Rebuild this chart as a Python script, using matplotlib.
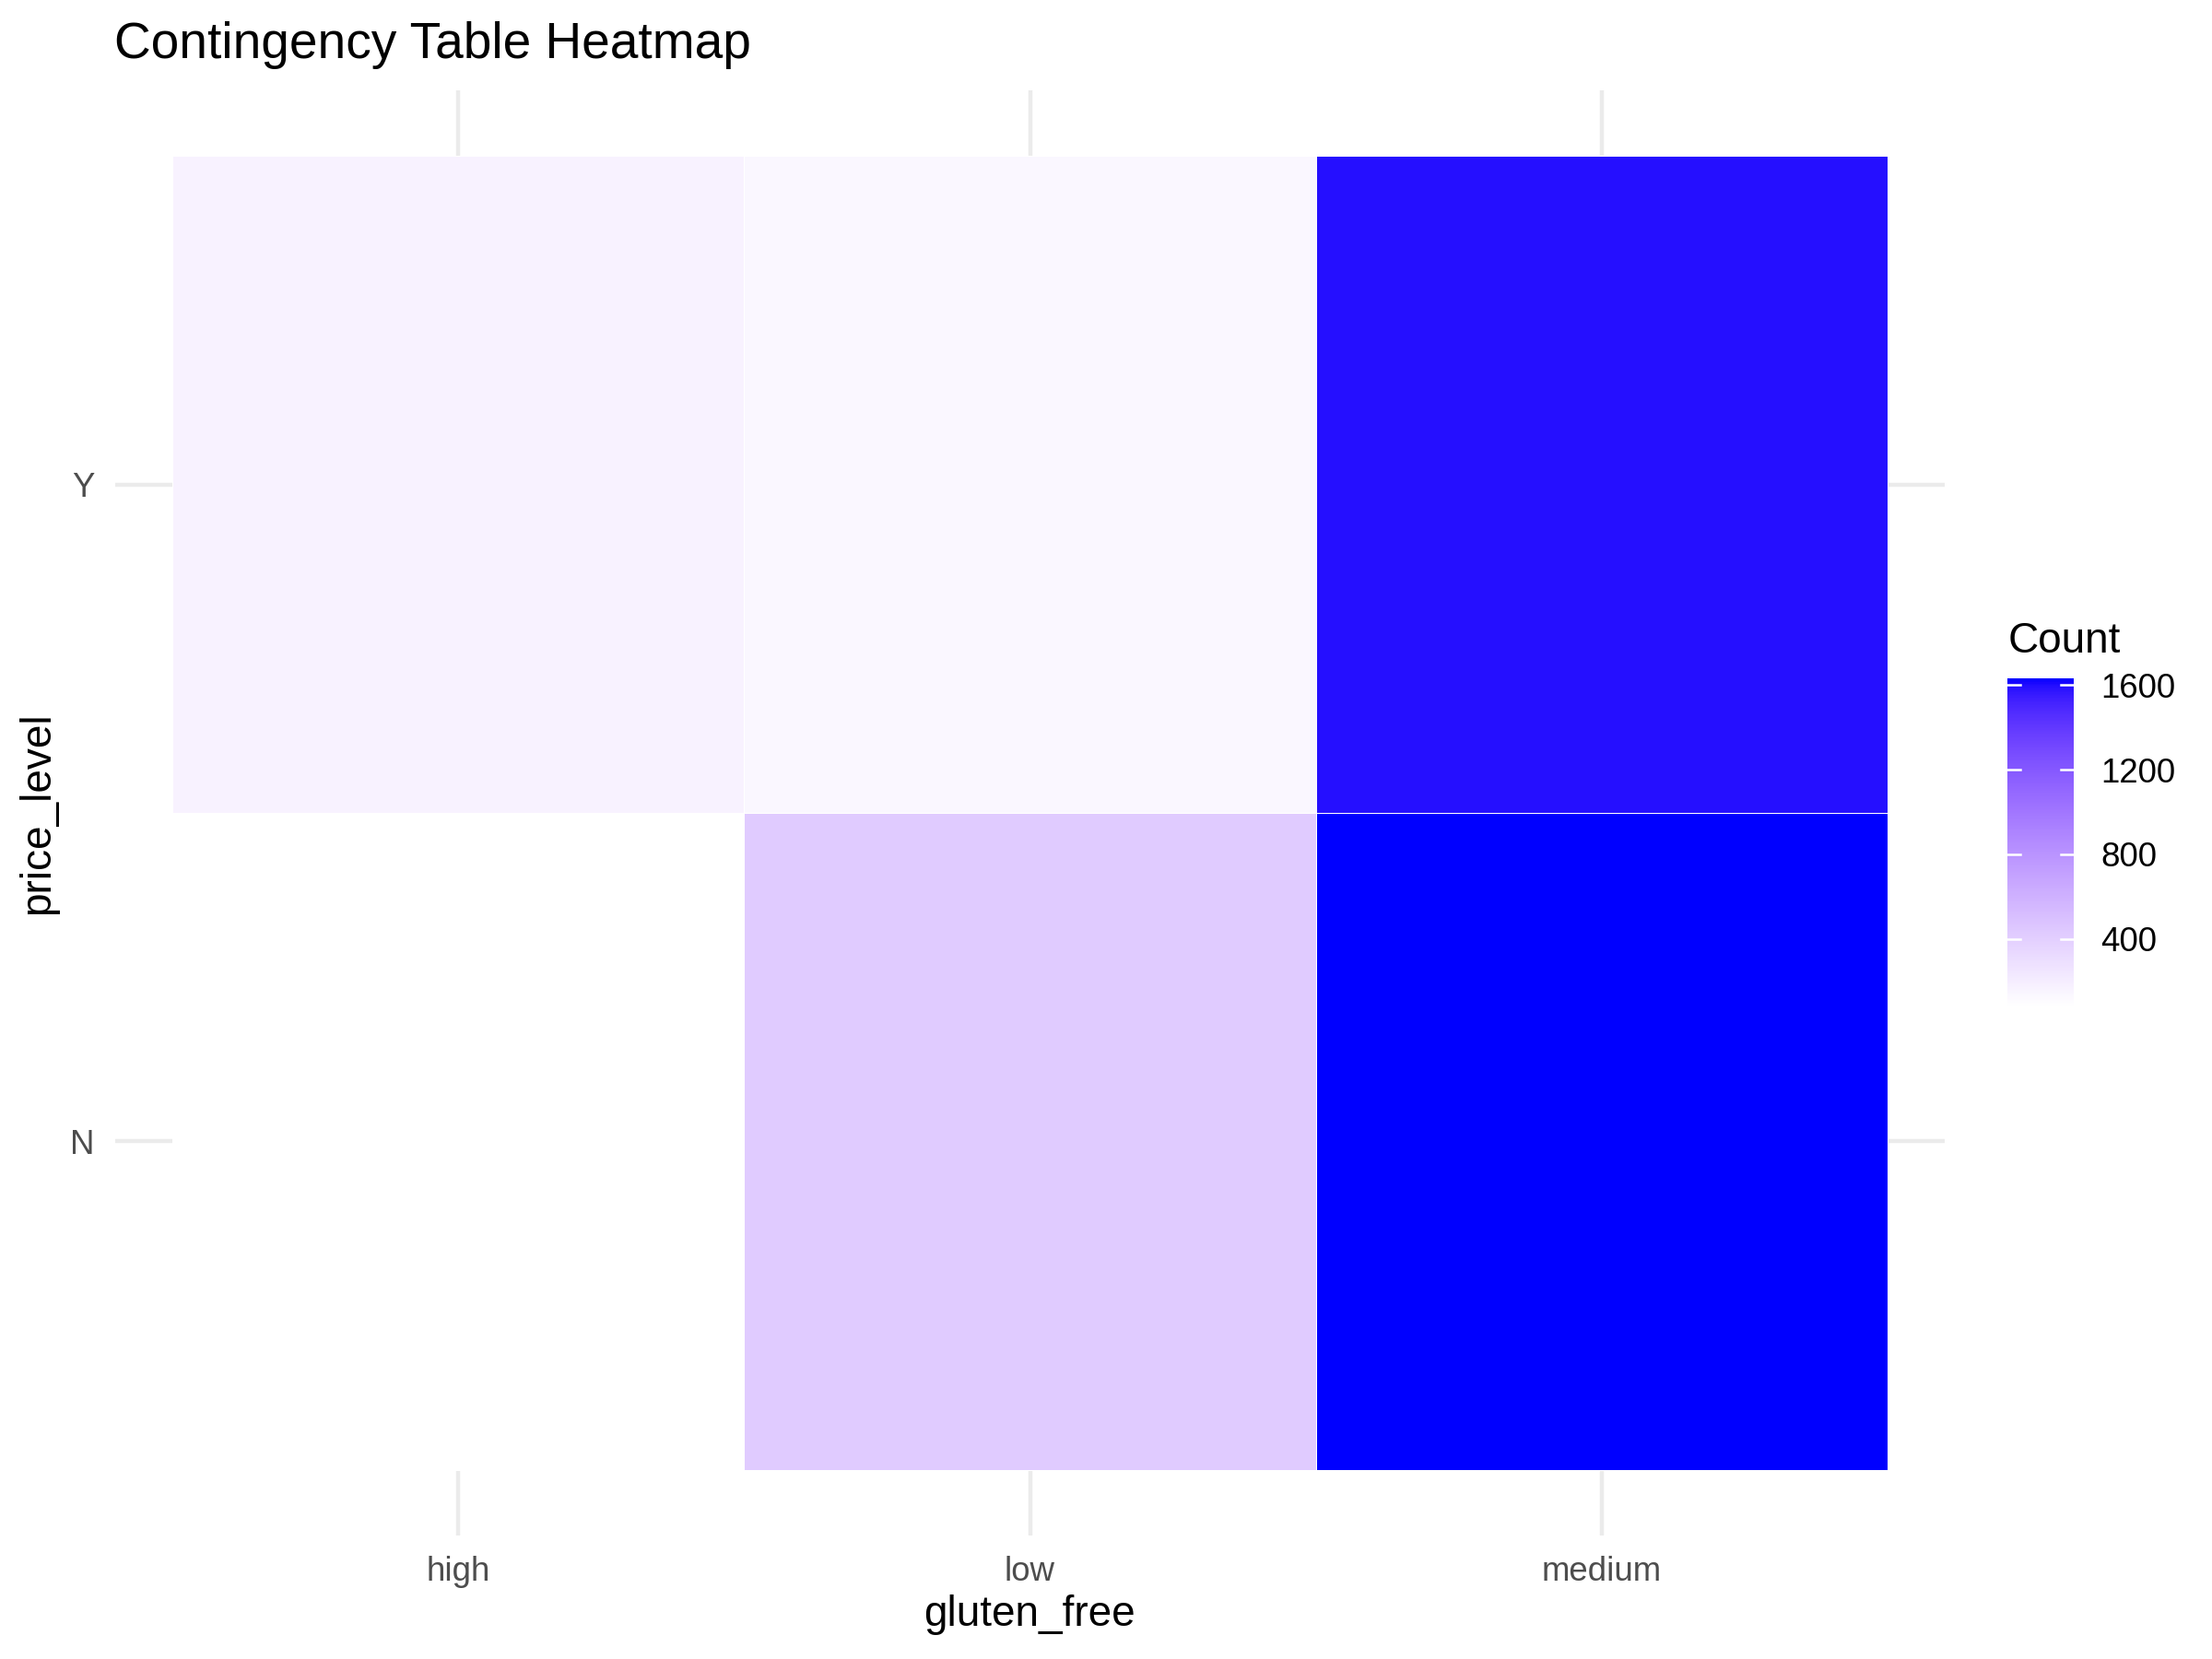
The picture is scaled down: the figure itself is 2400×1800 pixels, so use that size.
import numpy as np
import matplotlib
matplotlib.use("Agg")
import matplotlib.pyplot as plt
from matplotlib.colors import ListedColormap, Normalize
from matplotlib.transforms import blended_transform_factory

plt.rcParams['font.family'] = ['Liberation Sans', 'DejaVu Sans']

# ---- data ----
gluten_free = ["high", "low", "medium"]
price_level = ["N", "Y"]
count_N = [81, 430, 1632]
count_Y = [170, 140, 1590]
cbar_ticks = [400, 800, 1200, 1600]

# ---- Lab-interpolated white->blue gradient (like ggplot scale_fill_gradient) ----
def srgb_to_lab(rgb):
    rgb = np.asarray(rgb, float)
    lin = np.where(rgb <= 0.04045, rgb / 12.92, ((rgb + 0.055) / 1.055) ** 2.4)
    M = np.array([[0.4124, 0.3576, 0.1805],
                  [0.2126, 0.7152, 0.0722],
                  [0.0193, 0.1192, 0.9505]])
    xyz = M @ lin
    wp = np.array([0.95047, 1.0, 1.08883])
    t = xyz / wp
    f = np.where(t > 216 / 24389, np.cbrt(t), (24389 / 27 * t + 16) / 116)
    return np.array([116 * f[1] - 16, 500 * (f[0] - f[1]), 200 * (f[1] - f[2])])

def lab_to_srgb(lab):
    L, a, b = lab
    fy = (L + 16) / 116
    fx = fy + a / 500
    fz = fy - b / 200
    def finv(f):
        return np.where(f ** 3 > 216 / 24389, f ** 3, (116 * f - 16) / (24389 / 27))
    wp = np.array([0.95047, 1.0, 1.08883])
    xyz = np.array([finv(fx), finv(fy), finv(fz)]) * wp
    Minv = np.array([[3.2406, -1.5372, -0.4986],
                     [-0.9689, 1.8758, 0.0415],
                     [0.0557, -0.2040, 1.0570]])
    lin = np.clip(Minv @ xyz, 0, 1)
    rgb = np.where(lin <= 0.0031308, 12.92 * lin, 1.055 * lin ** (1 / 2.4) - 0.055)
    return np.clip(rgb, 0, 1)

lab_lo = srgb_to_lab([1, 1, 1])
lab_hi = srgb_to_lab([0, 0, 1])
cols = [lab_to_srgb(lab_lo + (lab_hi - lab_lo) * t) for t in np.linspace(0, 1, 256)]
cmap = ListedColormap(cols)

vals = np.array([count_N, count_Y], float)
vmin, vmax = vals.min(), vals.max()
norm = Normalize(vmin=vmin, vmax=vmax)

# ---- figure ----
fig = plt.figure(figsize=(8, 6), dpi=300)
W, H = 2400, 1800
ax = fig.add_axes([125 / W, 1 - 1666 / H, (2110 - 125) / W, (1666 - 98) / H])
ax.set_facecolor("white")
for s in ax.spines.values():
    s.set_visible(False)

xs = np.arange(1, len(gluten_free) + 1)
ys = np.arange(1, len(price_level) + 1)
for x in xs:
    ax.axvline(x, color="#EBEBEB", lw=1.07, zorder=0)
for y in ys:
    ax.axhline(y, color="#EBEBEB", lw=1.07, zorder=0)

xe = np.arange(0.5, len(gluten_free) + 1)
ye = np.arange(0.5, len(price_level) + 1)
ax.pcolormesh(xe, ye, vals, cmap=cmap, norm=norm, edgecolor="white",
              linewidth=0.2, zorder=1)

ax.set_xlim(0.4, len(gluten_free) + 0.6)
ax.set_ylim(0.4, len(price_level) + 0.6)
ax.set_xticks(xs)
ax.set_xticklabels(gluten_free)
ax.set_yticks(ys)
ax.set_yticklabels(price_level)
ax.tick_params(length=0, pad=5.3, labelsize=8.8, labelcolor="#4D4D4D")

fig.text(1117 / W, 1 - 1752 / H, "gluten_free", ha="center", va="center", fontsize=11)
fig.text(41 / W, 1 - 882 / H, "price_level", ha="center", va="center",
         rotation=90, fontsize=11)
fig.text(124 / W, 1 - 63 / H, "Contingency Table Heatmap", ha="left",
         va="baseline", fontsize=13.2)

# ---- colorbar ----
cax = fig.add_axes([2178 / W, 1 - 1092 / H, 72 / W, 356 / H])
sm = plt.cm.ScalarMappable(norm=norm, cmap=cmap)
cb = fig.colorbar(sm, cax=cax, ticks=cbar_ticks)
cb.outline.set_visible(False)
cax.tick_params(length=0, pad=7, labelsize=8.8, labelcolor="black")
tr = blended_transform_factory(cax.transAxes, cax.transData)
for t in cbar_ticks:
    cax.plot([0, 0.2], [t, t], color="white", lw=0.6, transform=tr)
    cax.plot([0.8, 1.0], [t, t], color="white", lw=0.6, transform=tr)
fig.text(2179 / W, 1 - 708 / H, "Count", ha="left", va="baseline", fontsize=11)

fig.savefig("out.png", dpi=300, facecolor="white")
